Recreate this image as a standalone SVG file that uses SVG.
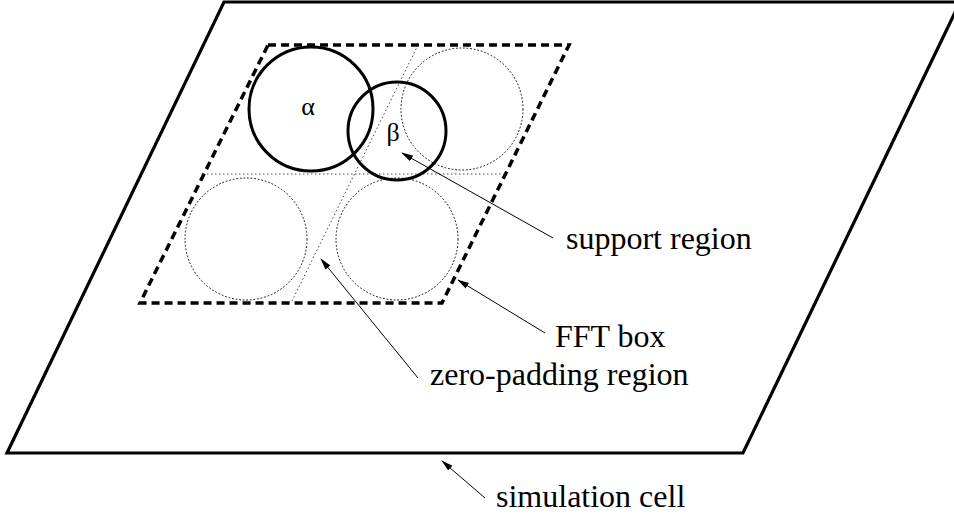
<svg xmlns="http://www.w3.org/2000/svg" width="954" height="514" viewBox="0 0 954 514">
<defs>
<marker id="ah" markerWidth="12" markerHeight="8" refX="11" refY="4" orient="auto" markerUnits="userSpaceOnUse">
<path d="M0,0.8 L12,4 L0,7.2 Z" fill="#000"/>
</marker>
<style>
.cell{fill:none;stroke:#000;stroke-width:3.2;stroke-linejoin:miter}
.fft{fill:none;stroke:#000;stroke-width:3.5;stroke-dasharray:8 5}
.div{fill:none;stroke:#444;stroke-width:1;stroke-dasharray:1.5 2.5}
.dc{fill:none;stroke:#111;stroke-width:1;stroke-dasharray:1.8 1.8}
.sc{fill:none;stroke:#000;stroke-width:3}
.lbl{font-family:"Liberation Serif","Times New Roman",serif;font-size:32px;fill:#000}
.greek{font-family:"Liberation Serif","Times New Roman",serif;font-size:26px;fill:#000;text-anchor:middle}
.ar{fill:none;stroke:#000;stroke-width:1;marker-end:url(#ah)}
</style>
</defs>
<g id="simulation-cell">
<path class="cell" d="M224,2 L960,2 L743,453 L7,453 Z"/>
</g>
<g id="fft-box">
<path class="fft" d="M268,45 L569,45 L442,303 L140,303 Z"/>
</g>
<g id="dividers">
<line class="div" x1="203" y1="174" x2="503" y2="174"/>
<line class="div" x1="418" y1="45" x2="291" y2="303"/>
</g>
<g id="periodic-images">
<circle class="dc" cx="462" cy="109" r="61"/>
<circle class="dc" cx="246" cy="239" r="61"/>
<circle class="dc" cx="397" cy="239" r="61"/>
</g>
<g id="alpha">
<circle class="sc" cx="311" cy="109" r="62"/>
<text class="greek" x="308" y="115">α</text>
</g>
<g id="beta">
<circle class="sc" cx="397" cy="131" r="49"/>
<text class="greek" x="393" y="141">β</text>
</g>
<g id="connectors">
<line class="ar" x1="553" y1="238" x2="402" y2="153"/>
<line class="ar" x1="545" y1="333" x2="458" y2="280"/>
<line class="ar" x1="418" y1="378" x2="321" y2="259"/>
<line class="ar" x1="485" y1="498" x2="442" y2="461"/>
</g>
<g id="labels">
<text class="lbl" x="566" y="249">support region</text>
<text class="lbl" x="555" y="347">FFT box</text>
<text class="lbl" x="430" y="385">zero-padding region</text>
<text class="lbl" x="496" y="507">simulation cell</text>
</g>
</svg>
